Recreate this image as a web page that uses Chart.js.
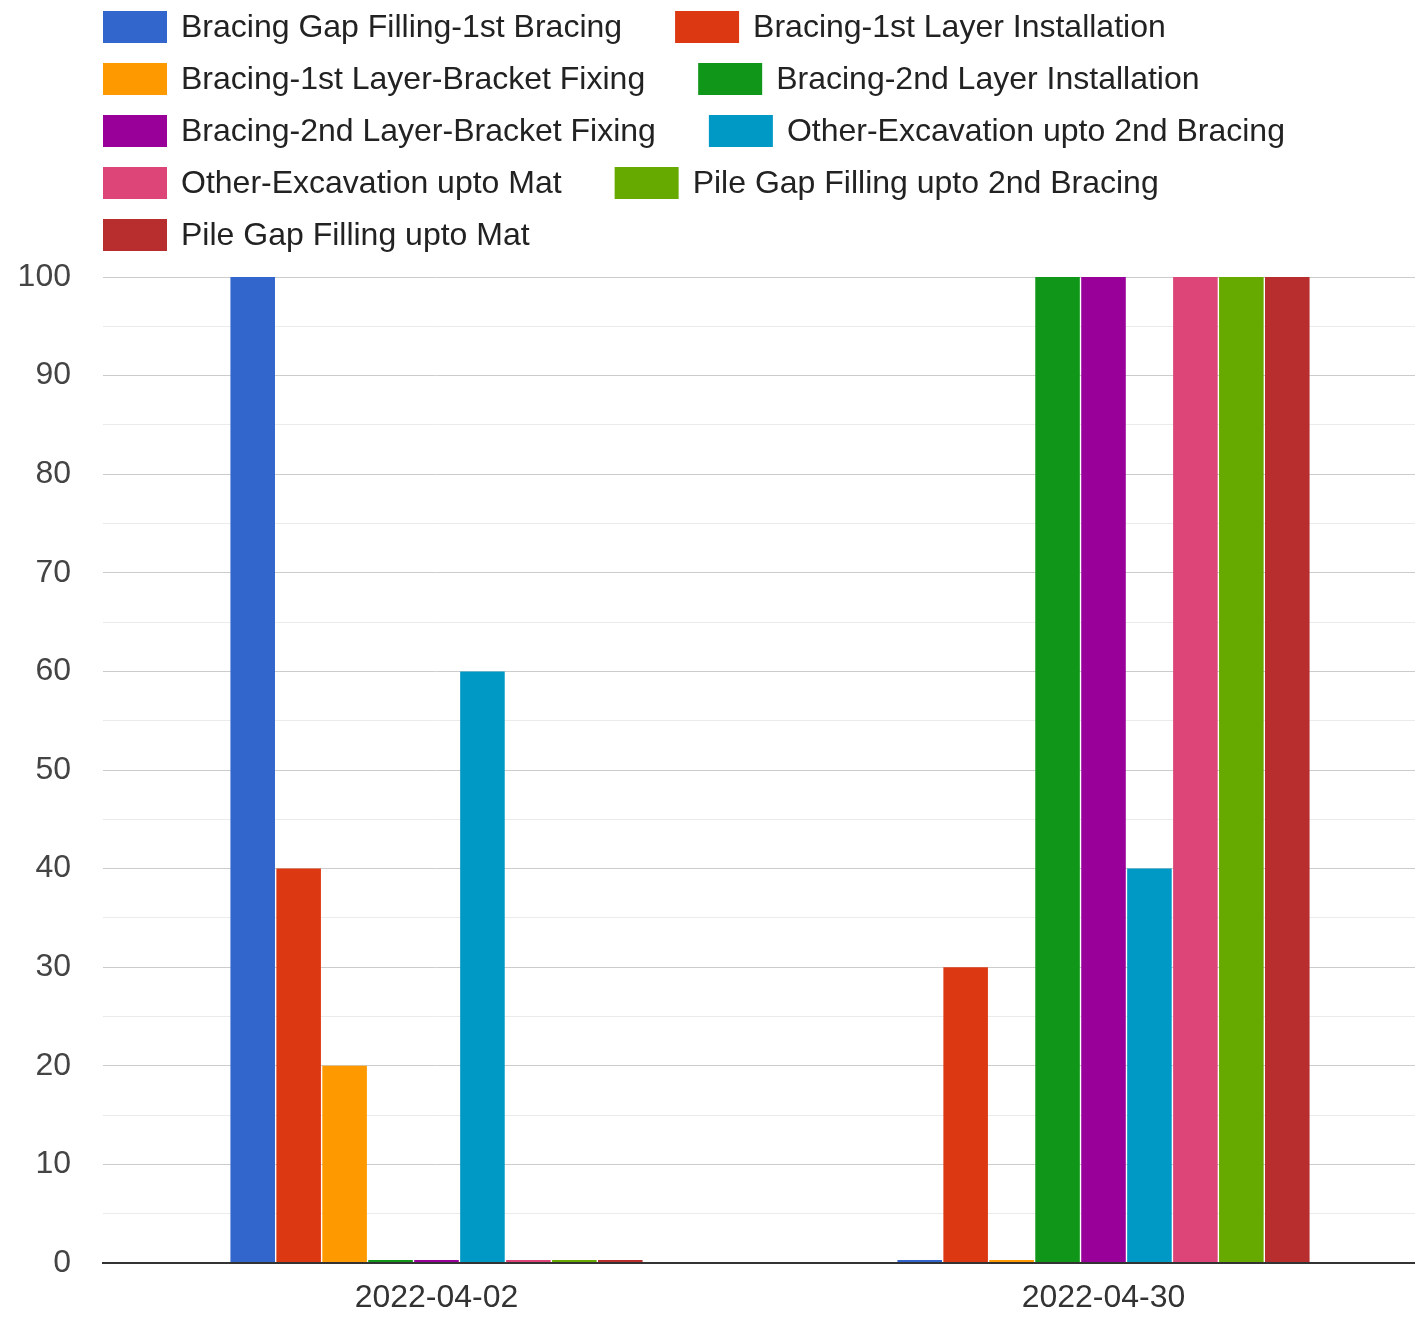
<!DOCTYPE html>
<html>
<head>
<meta charset="utf-8">
<script src="https://cdn.jsdelivr.net/npm/chart.js@4.4.1/dist/chart.umd.min.js"></script>
<style>
    body { margin: 0; overflow: hidden; background: #fff; }
</style>
</head>
<body>
<canvas id="progressChart" width="1440" height="1322"></canvas>
<script>
const dates = ['2022-04-02', '2022-04-30'];

const activities = [
    'Bracing Gap Filling-1st Bracing',
    'Bracing-1st Layer Installation',
    'Bracing-1st Layer-Bracket Fixing',
    'Bracing-2nd Layer Installation',
    'Bracing-2nd Layer-Bracket Fixing',
    'Other-Excavation upto 2nd Bracing',
    'Other-Excavation upto Mat',
    'Pile Gap Filling upto 2nd Bracing',
    'Pile Gap Filling upto Mat'
];

// percent done per activity, one array per date
const progress_0402 = [100, 40, 20, 0, 0, 60, 0, 0, 0];
const progress_0430 = [0, 30, 0, 100, 100, 40, 100, 100, 100];

const colors = ['#3366cc', '#dc3912', '#ff9900', '#109618', '#990099',
                '#0099c6', '#dd4477', '#66aa00', '#b82e2e'];

const yTicks = [0, 10, 20, 30, 40, 50, 60, 70, 80, 90, 100];

const FONT = 'Arial, "Liberation Sans", sans-serif';

let datasets = activities.map((name, i) => ({
    label: name,
    data: [progress_0402[i], progress_0430[i]],
    backgroundColor: colors[i],
    categoryPercentage: 0.62,
    barPercentage: 0.97,
    minBarLength: 3
}));

// legend drawn by hand so the rows start at the plot's left edge
const flowLegend = {
    id: 'flowLegend',
    afterDraw(chart) {
        const c = chart.ctx;
        c.save();
        c.font = '32px ' + FONT;
        c.textBaseline = 'middle';
        c.textAlign = 'left';
        let x = 103, row = 0;
        chart.data.datasets.forEach(ds => {
            let w = 64 + 14 + c.measureText(ds.label).width;
            if (x > 103 && x + w > 1415) {
                row++;
                x = 103;
            }
            let y = 27 + row * 52;
            c.fillStyle = ds.backgroundColor;
            c.fillRect(x, y - 16, 64, 32);
            c.fillStyle = '#222';
            c.fillText(ds.label, x + 78, y + 1);
            x += w + 53;
        });
        c.restore();
    }
};

new Chart(document.getElementById('progressChart'), {
    type: 'bar',
    data: {
        labels: dates,
        datasets: datasets
    },
    plugins: [flowLegend],
    options: {
        responsive: false,
        animation: false,
        layout: {
            padding: { top: 277, right: 3, bottom: 5, left: 0 }
        },
        plugins: {
            legend: { display: false },
            tooltip: { enabled: false }
        },
        scales: {
            x: {
                afterFit(scale) { scale.height = 54; },
                grid: { display: false, drawTicks: false },
                border: { display: true, color: '#333', width: 2, z: 1 },
                ticks: {
                    color: '#333',
                    padding: 16,
                    font: { family: FONT, size: 32 }
                }
            },
            y: {
                min: 0,
                max: 100,
                afterFit(scale) { scale.width = 103; },
                afterBuildTicks(scale) {
                    // labelled ticks plus the faint half-step lines
                    let t = [];
                    yTicks.forEach((v, i) => {
                        t.push({ value: v });
                        if (i < yTicks.length - 1) t.push({ value: v + 5 });
                    });
                    scale.ticks = t;
                },
                border: { display: false },
                grid: {
                    drawTicks: false,
                    color: ctx => {
                        let v = ctx.tick.value;
                        if (v === 0) return '#333';
                        return v % 10 === 0 ? '#cccccc' : '#ebebeb';
                    },
                    lineWidth: ctx => (ctx.tick.value === 0 ? 2 : 1)
                },
                ticks: {
                    color: '#444',
                    padding: 32,
                    autoSkip: false,
                    font: { family: FONT, size: 32 },
                    callback: v => (yTicks.includes(v) ? v : '')
                }
            }
        }
    }
});
</script>
</body>
</html>
